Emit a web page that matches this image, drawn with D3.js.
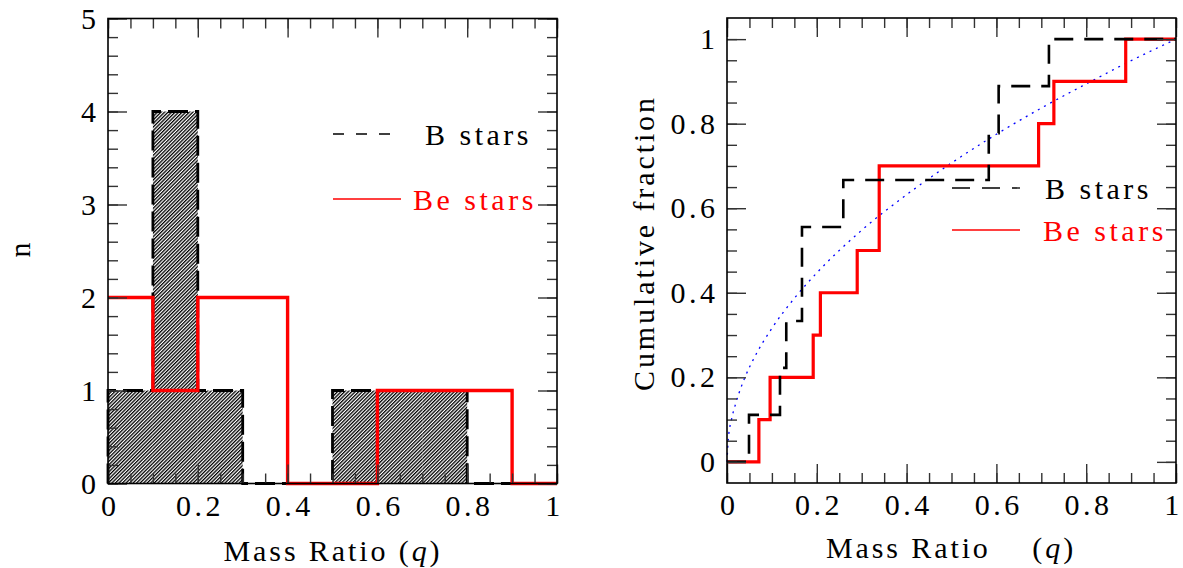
<!DOCTYPE html>
<html><head><meta charset="utf-8">
<script src="https://cdn.jsdelivr.net/npm/d3@7"></script>
<style>
html,body{margin:0;padding:0;background:#fff;}
svg text{font-family:"Liberation Serif","DejaVu Serif",serif;}
</style></head>
<body>
<svg id="c" width="1183" height="568"></svg>
<script>
// ---- data ----
const binEdges = [0, 0.1, 0.2, 0.3, 0.4, 0.5, 0.6, 0.7, 0.8, 0.9, 1.0];
const bCounts  = [1, 4, 1, 0, 0, 1, 1, 1, 0, 0];   // B stars histogram
const beCounts = [2, 1, 2, 2, 0, 0, 1, 1, 1, 0];   // Be stars histogram
const bQ  = [0.049, 0.118, 0.132, 0.167, 0.167, 0.259, 0.583, 0.605, 0.717];          // B stars sorted q
const beQ = [0.071, 0.096, 0.192, 0.208, 0.290, 0.339, 0.339, 0.694, 0.728, 0.888];   // Be stars sorted q
const curveQ = [0, 0.003, 0.01, 0.02, 0.04, 0.06, 0.1, 0.15, 0.2, 0.3, 0.4, 0.5, 0.6, 0.7, 0.8, 0.9, 1.0];
const curveF = [0, 0.055, 0.10, 0.14, 0.20, 0.245, 0.316, 0.387, 0.447, 0.548, 0.632, 0.707, 0.775, 0.837, 0.894, 0.949, 1.0];
const xTickLabels = ["0", "0.2", "0.4", "0.6", "0.8", "1"];
const xTickValues = [0, 0.2, 0.4, 0.6, 0.8, 1];
const nTickValues = [0, 1, 2, 3, 4, 5];
const fTickValues = [0, 0.2, 0.4, 0.6, 0.8, 1];
const legendLabels = ["B stars", "Be stars"];

const svg = d3.select("#c");
const FS = 30, LS = 3.5, LST = 2.9;

const defs = svg.append("defs");
const pat = defs.append("pattern").attr("id","hatch").attr("patternUnits","userSpaceOnUse")
  .attr("width",2.5).attr("height",2.5).attr("patternTransform","rotate(45)");
pat.append("line").attr("x1",0.6).attr("y1",0).attr("x2",0.6).attr("y2",2.5)
  .attr("stroke","#000").attr("stroke-width",1.4);

function fmt(v){ const i = xTickValues.indexOf(v); return i>=0 ? xTickLabels[i] : d3.format("~g")(v); }

function frameAxes(g, x, y, xMajor, xMinor, yMajor, yMinor, yFmt, x0, x1, y0, y1){
  const MJ = 19, MN = 10;
  const styleAxis = a => { a.select(".domain").remove();
    a.selectAll("line").attr("stroke","#333").attr("stroke-width",1.4);
    a.selectAll("text").attr("font-size",FS).attr("letter-spacing",LS).attr("fill","#000")
     .attr("font-family","Liberation Serif"); };
  // bottom
  g.append("g").attr("transform",`translate(0,${y0})`)
    .call(d3.axisBottom(x).tickValues(xMajor).tickSize(-MJ).tickPadding(11).tickFormat(fmt)).call(styleAxis)
    .selectAll("text").attr("dx", (d,i,n)=> i===n.length-1 ? -3 : LS/2);
  g.append("g").attr("transform",`translate(0,${y0})`)
    .call(d3.axisBottom(x).tickValues(xMinor).tickSize(-MN).tickFormat("")).call(styleAxis);
  // top
  g.append("g").attr("transform",`translate(0,${y1})`)
    .call(d3.axisTop(x).tickValues(xMajor).tickSize(-MJ).tickFormat("")).call(styleAxis);
  g.append("g").attr("transform",`translate(0,${y1})`)
    .call(d3.axisTop(x).tickValues(xMinor).tickSize(-MN).tickFormat("")).call(styleAxis);
  // left
  g.append("g").attr("transform",`translate(${x0},0)`)
    .call(d3.axisLeft(y).tickValues(yMajor).tickSize(-MJ).tickPadding(12).tickFormat(yFmt)).call(styleAxis)
    .selectAll("text").attr("dx", LS);
  g.append("g").attr("transform",`translate(${x0},0)`)
    .call(d3.axisLeft(y).tickValues(yMinor).tickSize(-MN).tickFormat("")).call(styleAxis);
  // right
  g.append("g").attr("transform",`translate(${x1},0)`)
    .call(d3.axisRight(y).tickValues(yMajor).tickSize(-MJ).tickFormat("")).call(styleAxis);
  g.append("g").attr("transform",`translate(${x1},0)`)
    .call(d3.axisRight(y).tickValues(yMinor).tickSize(-MN).tickFormat("")).call(styleAxis);
  g.append("rect").attr("x",x0).attr("y",y1).attr("width",x1-x0).attr("height",y0-y1)
    .attr("fill","none").attr("stroke","#000").attr("stroke-width",1.6);
}

function range(a,b,s){ const r=[]; for(let v=a; v<=b+1e-9; v+=s) r.push(+v.toFixed(4)); return r; }

// ================= LEFT PANEL =================
const xL = d3.scaleLinear().domain([0,1]).range([108,557]);
const yL = d3.scaleLinear().domain([0,5]).range([483.5,18.5]);
const gL = svg.append("g");

// hatched B bars
gL.selectAll("rect.bar").data(bCounts.map((c,i)=>({c, a:binEdges[i], b:binEdges[i+1]})).filter(d=>d.c>0))
  .join("rect").attr("class","bar")
  .attr("x",d=>xL(d.a)).attr("y",d=>yL(d.c))
  .attr("width",d=>xL(d.b)-xL(d.a)).attr("height",d=>yL(0)-yL(d.c))
  .attr("fill","url(#hatch)");

const stepL = d3.line().x(d=>xL(d[0])).y(d=>yL(d[1])).curve(d3.curveStepAfter);
const bHist = [[0,0]].concat(bCounts.map((c,i)=>[binEdges[i],c])).concat([[1,0]]);
const beHist = beCounts.map((c,i)=>[binEdges[i],c]).concat([[1,beCounts[beCounts.length-1]]]);
gL.append("path").attr("d",stepL(bHist)).attr("fill","none").attr("stroke","#000")
  .attr("stroke-width",2.8).attr("stroke-dasharray","20,7");
gL.append("path").attr("d",stepL(beHist)).attr("fill","none").attr("stroke","#ff0000")
  .attr("stroke-width",3.4);

frameAxes(gL, xL, yL, xTickValues, range(0,1,0.05), nTickValues, range(0,5,0.2), d3.format("d"),
  108, 557, 483.5, 18.5);

// legend left
gL.append("line").attr("x1",333).attr("x2",402).attr("y1",134).attr("y2",134)
  .attr("stroke","#000").attr("stroke-width",1.3).attr("stroke-dasharray","11,12");
gL.append("text").attr("x",425).attr("y",145).attr("font-size",FS).attr("letter-spacing",LS).text(legendLabels[0]);
gL.append("line").attr("x1",333).attr("x2",401).attr("y1",199).attr("y2",199)
  .attr("stroke","#ff0000").attr("stroke-width",1.3);
gL.append("text").attr("x",413).attr("y",210).attr("font-size",FS).attr("letter-spacing",LS)
  .attr("fill","#ff0000").text(legendLabels[1]);

// axis titles left
const tL = gL.append("text").attr("x",333).attr("y",561).attr("text-anchor","middle")
  .attr("font-size",FS).attr("letter-spacing",LST).attr("xml:space","preserve");
tL.append("tspan").text("Mass Ratio (");
tL.append("tspan").attr("font-style","italic").text("q");
tL.append("tspan").text(")");
gL.append("text").attr("transform","translate(30,250) rotate(-90)").attr("text-anchor","middle")
  .attr("font-size",FS).text("n");

// ================= RIGHT PANEL =================
const xR = d3.scaleLinear().domain([0,1]).range([727,1176]);
const yR = d3.scaleLinear().domain([-0.05,1.05]).range([483,18]);
const gR = svg.append("g");

const stepR = d3.line().x(d=>xR(d[0])).y(d=>yR(d[1])).curve(d3.curveStepAfter);
function cumPts(qs){ const n=qs.length; return [[0,0]].concat(qs.map((q,i)=>[q,(i+1)/n])).concat([[1,1]]); }

// model curve
gR.append("path").attr("d", d3.line().x((d,i)=>xR(curveQ[i])).y((d,i)=>yR(curveF[i])).curve(d3.curveMonotoneX)(curveQ))
  .attr("fill","none").attr("stroke","#0000ff").attr("stroke-width",1.3).attr("stroke-dasharray","2,5");
gR.append("path").attr("d",stepR(cumPts(beQ))).attr("fill","none").attr("stroke","#ff0000").attr("stroke-width",3.2);
gR.append("path").attr("d",stepR(cumPts(bQ))).attr("fill","none").attr("stroke","#000")
  .attr("stroke-width",2.6).attr("stroke-dasharray","19,11");

frameAxes(gR, xR, yR, xTickValues, range(0,1,0.05), fTickValues, range(0,1,0.05), fmt,
  727, 1176, 483, 18);

// legend right
gR.append("line").attr("x1",952).attr("x2",1020).attr("y1",188).attr("y2",188)
  .attr("stroke","#000").attr("stroke-width",1.3).attr("stroke-dasharray","18,12");
gR.append("text").attr("x",1045).attr("y",199).attr("font-size",FS).attr("letter-spacing",LS).text(legendLabels[0]);
gR.append("line").attr("x1",952).attr("x2",1020).attr("y1",230).attr("y2",230)
  .attr("stroke","#ff0000").attr("stroke-width",1.3);
gR.append("text").attr("x",1043).attr("y",241).attr("font-size",FS).attr("letter-spacing",LS)
  .attr("fill","#ff0000").text(legendLabels[1]);

const tR = gR.append("text").attr("x",951).attr("y",558).attr("text-anchor","middle")
  .attr("font-size",FS).attr("letter-spacing",LST).attr("xml:space","preserve");
tR.append("tspan").text("Mass Ratio    (");
tR.append("tspan").attr("font-style","italic").text("q");
tR.append("tspan").text(")");
gR.append("text").attr("transform","translate(654,243) rotate(-90)").attr("text-anchor","middle")
  .attr("font-size",FS).attr("letter-spacing",LST).text("Cumulative fraction");
</script>
</body></html>
